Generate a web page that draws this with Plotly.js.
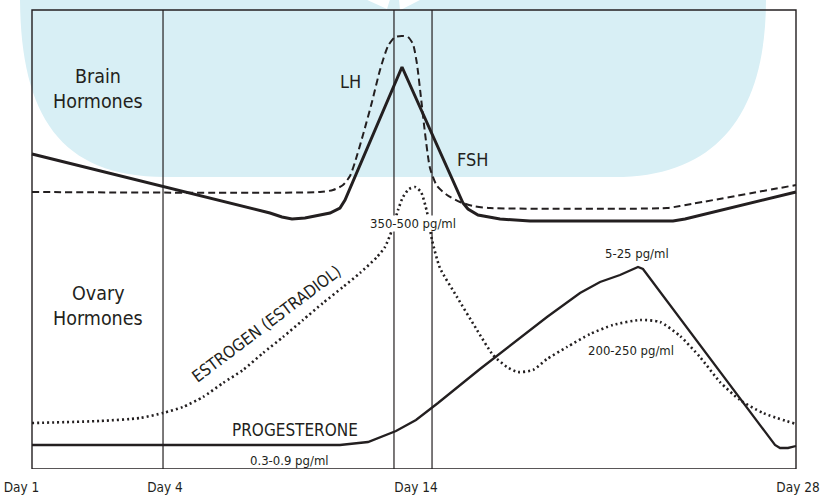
<!DOCTYPE html>
<html>
<head>
<meta charset="utf-8">
<script src="https://cdn.plot.ly/plotly-3.0.1.min.js"></script>
<style>html,body{margin:0;padding:0;background:#fff;}#chart{width:820px;height:498px;}</style>
</head>
<body>
<div id="chart"></div>
<script>
// Schematic cycle position (0 = start of box, 100 = end of box) and relative level (0-100)
const dayTickPos  = [-1.37, 17.41, 50.26, 100.26];
const dayTickText = ['Day 1', 'Day 4', 'Day 14', 'Day 28'];
const markerLines = [17.15, 47.38, 52.36];

// FSH (solid, brain hormones)
const fshX = [0, 31.15, 32.72, 34.03, 35.73, 39.01, 40.31, 40.97, 48.43, 56.41, 57.07, 58.38, 61.26, 65.18, 83.90, 85.47, 100];
const fshY = [68.63, 55.77, 54.90, 54.47, 54.68, 55.77, 56.86, 58.61, 87.58, 57.95, 56.64, 55.34, 54.47, 54.03, 54.03, 54.47, 60.35];

// LH (dashed, brain hormones)
const lhX = [0, 37.70, 39.40, 40.71, 41.62, 42.28, 43.32, 44.50, 45.55, 46.60, 47.51, 48.43, 49.21, 49.87, 50.39, 50.92, 51.44, 52.09, 53.01, 54.32, 56.02, 57.72, 59.95, 83.12, 84.82, 100];
const lhY = [60.35, 60.35, 60.78, 61.87, 63.83, 66.88, 72.77, 79.96, 86.93, 92.16, 94.12, 94.34, 94.12, 92.59, 88.24, 80.83, 73.20, 65.58, 61.66, 59.69, 58.17, 57.30, 56.86, 56.86, 57.30, 61.87];

// Estrogen / estradiol (dotted, ovary hormones)
const estX = [0, 8.90, 14.14, 17.15, 19.76, 22.38, 25.00, 27.62, 30.24, 32.85, 35.47, 38.09, 40.71, 42.93, 45.16, 46.20, 47.12, 47.91, 48.56, 49.35, 50.13, 50.92, 51.70, 52.36, 53.40, 55.63, 58.25, 60.34, 62.17, 63.61, 65.58, 67.41, 70.03, 73.04, 76.05, 79.58, 82.20, 84.82, 87.43, 90.05, 92.67, 95.68, 100];
const estY = [10.02, 10.46, 11.11, 12.20, 13.51, 15.69, 18.74, 21.57, 25.27, 28.76, 32.46, 36.17, 39.65, 42.70, 46.19, 48.37, 52.07, 56.43, 59.26, 61.00, 61.44, 60.35, 55.99, 49.89, 43.79, 37.47, 30.28, 24.84, 22.22, 21.13, 21.57, 23.97, 26.58, 29.41, 31.37, 32.46, 32.03, 28.98, 24.40, 18.95, 15.03, 12.20, 9.80];

// Progesterone (solid, ovary hormones)
const progX = [0, 40.31, 43.98, 47.64, 50.26, 53.14, 58.64, 67.41, 71.73, 74.35, 76.96, 78.53, 79.32, 79.97, 97.25, 97.91, 98.95, 100];
const progY = [5.23, 5.23, 5.88, 8.28, 10.68, 14.38, 21.79, 33.12, 38.34, 40.74, 42.27, 43.36, 44.01, 43.57, 5.23, 4.58, 4.58, 5.01];

const FONT = "'DejaVu Sans Condensed', 'Liberation Sans Narrow', 'Arial Narrow', sans-serif";
const INK = '#231f20';

const traces = [
  {x: fshX, y: fshY, name: 'FSH', mode: 'lines', line: {color: INK, width: 3, shape: 'linear'}, hoverinfo: 'skip'},
  {x: lhX, y: lhY, name: 'LH', mode: 'lines', line: {color: INK, width: 2, dash: '7px,4px', shape: 'spline', smoothing: 0.6}, hoverinfo: 'skip'},
  {x: estX, y: estY, name: 'Estrogen (Estradiol)', mode: 'lines', line: {color: INK, width: 2.6, dash: '2px,3px', shape: 'spline', smoothing: 0.6}, hoverinfo: 'skip'},
  {x: progX, y: progY, name: 'Progesterone', mode: 'lines', line: {color: INK, width: 2.3, shape: 'linear'}, hoverinfo: 'skip'}
];

const shapes = [
  {type: 'path', xref: 'x', yref: 'y', layer: 'below', line: {width: 0}, fillcolor: '#d8eff5',
   path: 'M -1.83,103.3 L -1.57,102.18 C -1.44,77.12 3.66,63.62 17.41,63.62 L 76.31,63.62 C 90.05,63.62 96.07,78.21 96.07,102.18 L 96.07,103.3 Z'},
  {type: 'path', xref: 'x', yref: 'y', layer: 'below', line: {width: 0}, fillcolor: '#ffffff',
   path: 'M 43.72,102.3 L 46.86,102.3 L 46.47,100.22 Z'},
  {type: 'path', xref: 'x', yref: 'y', layer: 'below', line: {width: 0}, fillcolor: '#ffffff',
   path: 'M 48.04,102.3 L 50.92,102.3 L 48.17,99.96 Z'},
  {type: 'rect', xref: 'x', yref: 'y', x0: 0, x1: 100, y0: 0, y1: 100, layer: 'below', line: {color: INK, width: 1.4}}
];
markerLines.forEach(v => shapes.push({type: 'line', xref: 'x', yref: 'y', x0: v, x1: v, y0: 0, y1: 100, layer: 'below', line: {color: INK, width: 1.2}}));

function lab(text, x, y, size, extra) {
  return Object.assign({text: text, x: x, y: y, xref: 'x', yref: 'y', showarrow: false, xanchor: 'center', yanchor: 'middle',
    font: {family: FONT, size: size, color: INK}}, extra || {});
}

const annotations = [
  lab('Brain', 8.64, 85.51, 19.5),
  lab('Hormones', 8.64, 80.07, 19.5),
  lab('Ovary', 8.64, 38.24, 19.5),
  lab('Hormones', 8.64, 32.79, 19.5),
  lab('LH', 41.75, 84.53, 18),
  lab('FSH', 57.72, 67.54, 18),
  lab('350-500 pg/ml', 49.87, 53.59, 13, {bgcolor: '#ffffff', borderpad: 0}),
  lab('5-25 pg/ml', 79.19, 47.06, 13),
  lab('200-250 pg/ml', 78.40, 25.71, 13),
  lab('PROGESTERONE', 34.42, 8.50, 17),
  lab('0.3-0.9 pg/ml', 33.64, 1.96, 13),
  lab('ESTROGEN (ESTRADIOL)', 30.8, 31.6, 16.5, {textangle: -37})
];

const layout = {
  width: 820, height: 498,
  margin: {l: 0, r: 0, t: 0, b: 29, pad: 0},
  paper_bgcolor: '#ffffff', plot_bgcolor: '#ffffff',
  showlegend: false,
  xaxis: {range: [-4.188, 103.141], showgrid: false, zeroline: false, showline: false,
          tickmode: 'array', tickvals: dayTickPos, ticktext: dayTickText,
          ticks: 'outside', ticklen: 6, tickcolor: 'rgba(0,0,0,0)', ticklabeloverflow: 'allow',
          tickfont: {family: FONT, size: 13.5, color: INK}, fixedrange: true},
  yaxis: {range: [0, 102.18], visible: false, fixedrange: true},
  shapes: shapes,
  annotations: annotations
};

Plotly.newPlot('chart', traces, layout, {displayModeBar: false, staticPlot: true});
</script>
</body>
</html>
